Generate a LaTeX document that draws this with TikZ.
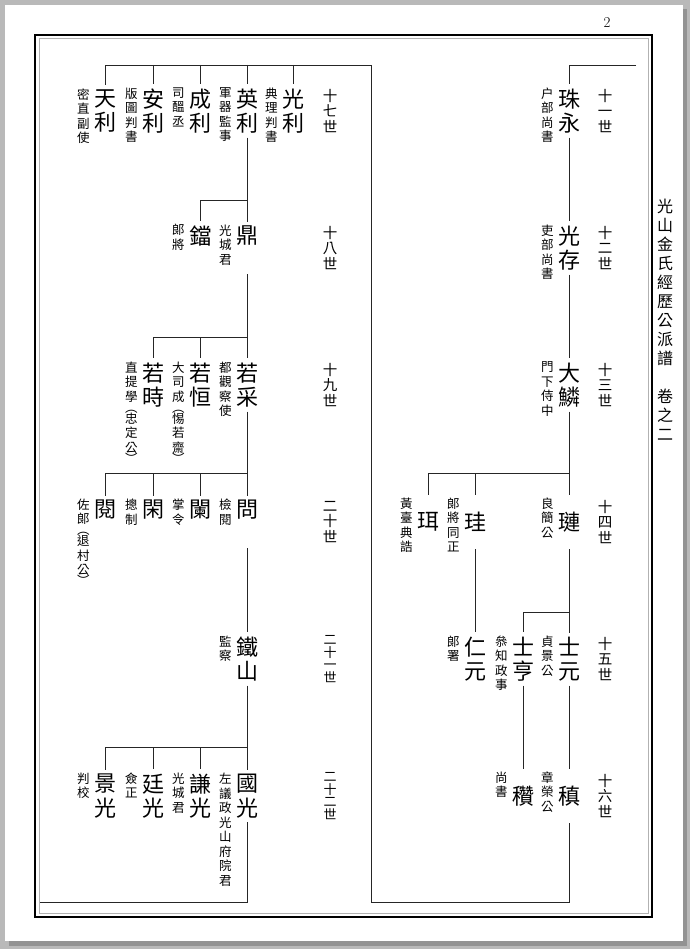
\documentclass[tikz,border=0pt]{standalone}
\usepackage{fontspec}
\newfontfamily\cjk{Noto Sans CJK TC}
\usetikzlibrary{positioning}

\newcommand\namefont{\cjk\fontsize{22}{24.5}\selectfont}
\newcommand\dutyfont{\cjk\fontsize{12.5}{14.5}\selectfont}
\newcommand\genfont{\cjk\fontsize{14.5}{15.5}\selectfont}
\newcommand\genfontsm{\cjk\fontsize{13}{12.5}\selectfont}
\newcommand\titlefont{\cjk\fontsize{16}{19}\selectfont}
\newcommand\blank{\phantom{國}}

\begin{document}
\begin{tikzpicture}[x=1pt, y=-1pt,
				person/.style={font=\namefont, align=center, inner sep=4pt},
				solo/.style={person, minimum height=54.5pt},
				duty/.style={font=\dutyfont, align=center, inner sep=0pt},
				gen/.style={font=\genfont, align=center, inner sep=0pt},
				gensm/.style={font=\genfontsm, align=center, inner sep=0pt},
				booktitle/.style={font=\titlefont, align=center, inner sep=0pt},
				link/.style={line width=0.9pt, black!85}]
				
				\useasboundingbox (0,0) rectangle (690,949);
				\fill[gray!55] (0,0) rectangle (690,949);
				\fill[gray!85] (9,9) rectangle (687,946);
				\fill[white] (5,5) rectangle (683,941);
				\draw[line width=2.5pt] (35,35) rectangle (652,917);
				\draw[gray!60, line width=1pt] (39,39) rectangle (648,913);
				
				\node[font=\fontsize{15}{15}\selectfont] (pgno) at (607,23) {2};
				\node[booktitle, anchor=north] (maintitle) at (665,199) {光\\山\\金\\氏\\經\\歷\\公\\派\\譜\\[19pt]卷\\之\\二};
				
				% right page
				\node[person] (juyong) at (569,111) {珠\\永};
				\node[duty, below left=3pt and 0pt of juyong.north west] (o-juyong) {户\\部\\尚\\書};
				\node[gen] (g11) at (605,111) {十\\一\\世};
				
				\node[person] (gwangjon) at (569,248) {光\\存};
				\node[duty, below left=3pt and 0pt of gwangjon.north west] (o-gwangjon) {吏\\部\\尚\\書};
				\node[gen] (g12) at (605,248) {十\\二\\世};
				
				\node[person] (daerin) at (569,385) {大\\鱗};
				\node[duty, below left=3pt and 0pt of daerin.north west] (o-daerin) {門\\下\\侍\\中};
				\node[gen] (g13) at (605,385) {十\\三\\世};
				
				\node[solo] (yeon) at (569,522) {璉};
				\node[duty, below left=3pt and 0pt of yeon.north west] (o-yeon) {良\\簡\\公};
				\node[solo] (gyu) at (475,522) {珪};
				\node[duty, below left=3pt and 0pt of gyu.north west] (o-gyu) {郞\\將\\同\\正};
				\node[solo] (yi) at (428,522) {珥};
				\node[duty, below left=3pt and 0pt of yi.north west] (o-yi) {黃\\臺\\典\\誥};
				\node[gen] (g14) at (605,522) {十\\四\\世};
				
				\node[person] (sawon) at (569,659) {士\\元};
				\node[duty, below left=3pt and 0pt of sawon.north west] (o-sawon) {貞\\景\\公};
				\node[person] (sahyeong) at (523,659) {士\\亨};
				\node[duty, below left=3pt and 0pt of sahyeong.north west] (o-sahyeong) {叅\\知\\政\\事};
				\node[person] (inwon) at (475,659) {仁\\元};
				\node[duty, below left=3pt and 0pt of inwon.north west] (o-inwon) {郞\\署};
				\node[gen] (g15) at (605,659) {十\\五\\世};
				
				\node[solo] (jin) at (569,796) {稹};
				\node[duty, below left=3pt and 0pt of jin.north west] (o-jin) {章\\榮\\公};
				\node[solo] (chan) at (523,796) {穳};
				\node[duty, below left=3pt and 0pt of chan.north west] (o-chan) {尚\\書};
				\node[gen] (g16) at (605,796) {十\\六\\世};
				
				% left page
				\node[person] (gwangri) at (293,111) {光\\利};
				\node[duty, below left=3pt and 0pt of gwangri.north west] (o-gwangri) {典\\理\\判\\書};
				\node[person] (yeongri) at (247,111) {英\\利};
				\node[duty, below left=3pt and 0pt of yeongri.north west] (o-yeongri) {軍\\器\\監\\事};
				\node[person] (seongri) at (200,111) {成\\利};
				\node[duty, below left=3pt and 0pt of seongri.north west] (o-seongri) {司\\醞\\丞};
				\node[person] (anri) at (153,111) {安\\利};
				\node[duty, below left=3pt and 0pt of anri.north west] (o-anri) {版\\圖\\判\\書};
				\node[person] (cheonri) at (105,111) {天\\利};
				\node[duty, below left=3pt and 0pt of cheonri.north west] (o-cheonri) {密\\直\\副\\使};
				\node[gen] (g17) at (330,111) {十\\七\\世};
				
				\node[person] (jeong) at (247,248) {鼎\\\blank};
				\node[duty, below left=3pt and 0pt of jeong.north west] (o-jeong) {光\\城\\君};
				\node[person] (dang) at (200,248) {鐺\\\blank};
				\node[duty, below left=3pt and 0pt of dang.north west] (o-dang) {郞\\將};
				\node[gen] (g18) at (330,248) {十\\八\\世};
				
				\node[person] (yakchae) at (247,385) {若\\采};
				\node[duty, below left=3pt and 0pt of yakchae.north west] (o-yakchae) {都\\觀\\察\\使};
				\node[person] (yakhang) at (200,385) {若\\恒};
				\node[duty, below left=3pt and 0pt of yakhang.north west] (o-yakhang) {大\\司\\成\\[-3.5pt]︵\\[-3.5pt]惕\\若\\齋\\[-3.5pt]︶};
				\node[person] (yaksi) at (153,385) {若\\時};
				\node[duty, below left=3pt and 0pt of yaksi.north west] (o-yaksi) {直\\提\\學\\[-3.5pt]︵\\[-3.5pt]忠\\定\\公\\[-3.5pt]︶};
				\node[gen] (g19) at (330,385) {十\\九\\世};
				
				\node[person] (mun) at (247,522) {問\\\blank};
				\node[duty, below left=3pt and 0pt of mun.north west] (o-mun) {檢\\閱};
				\node[person] (ran) at (200,522) {闌\\\blank};
				\node[duty, below left=3pt and 0pt of ran.north west] (o-ran) {掌\\令};
				\node[person] (han) at (153,522) {閑\\\blank};
				\node[duty, below left=3pt and 0pt of han.north west] (o-han) {摠\\制};
				\node[person] (yeol) at (105,522) {閱\\\blank};
				\node[duty, below left=3pt and 0pt of yeol.north west] (o-yeol) {佐\\郞\\[-3.5pt]︵\\[-3.5pt]退\\村\\公\\[-3.5pt]︶};
				\node[gen] (g20) at (330,522) {二\\十\\世};
				
				\node[person] (cheolsan) at (247,659) {鐵\\山};
				\node[duty, below left=3pt and 0pt of cheolsan.north west] (o-cheolsan) {監\\察};
				\node[gensm] (g21) at (330,659) {二\\十\\一\\世};
				
				\node[person] (gukgwang) at (247,796) {國\\光};
				\node[duty, below left=3pt and 0pt of gukgwang.north west] (o-gukgwang) {左\\議\\政\\光\\山\\府\\院\\君};
				\node[person] (gyeomgwang) at (200,796) {謙\\光};
				\node[duty, below left=3pt and 0pt of gyeomgwang.north west] (o-gyeomgwang) {光\\城\\君};
				\node[person] (jeonggwang) at (153,796) {廷\\光};
				\node[duty, below left=3pt and 0pt of jeonggwang.north west] (o-jeonggwang) {僉\\正};
				\node[person] (gyeonggwang) at (105,796) {景\\光};
				\node[duty, below left=3pt and 0pt of gyeonggwang.north west] (o-gyeonggwang) {判\\校};
				\node[gensm] (g22) at (330,796) {二\\十\\二\\世};
				
				\coordinate (cont) at (636,65);
				\coordinate (rt) at (371,65);
				\coordinate (rb) at (371,902);
				\coordinate (lb) at (40,902);
				\coordinate (b14) at (569,473);
				\coordinate (b15) at (569,612);
				\coordinate (b18) at (247,200);
				\coordinate (b19) at (247,337);
				\coordinate (b20) at (247,473);
				\coordinate (b22) at (247,747);
				
				\draw[link] (cont) -| (juyong);
				\draw[link] (juyong) -- (gwangjon);
				\draw[link] (gwangjon) -- (daerin);
				\draw[link] (daerin) -- (yeon);
				\foreach \n in {gyu,yi} \draw[link] (b14) -| (\n);
				\draw[link] (yeon) -- (sawon);
				\draw[link] (b15) -| (sahyeong);
				\draw[link] (gyu) -- (inwon);
				\draw[link] (sawon) -- (jin);
				\draw[link] (sahyeong) -- (chan);
				\draw[link] (jin) |- (rb) -- (rt) -| (cheonri);
				
				\foreach \n in {anri,seongri,yeongri,gwangri} \draw[link] (\n |- rt) -- (\n);
				\draw[link] (yeongri) -- (jeong);
				\draw[link] (b18) -| (dang);
				\draw[link] (jeong) -- (yakchae);
				\foreach \n in {yakhang,yaksi} \draw[link] (b19) -| (\n);
				\draw[link] (yakchae) -- (mun);
				\foreach \n in {ran,han,yeol} \draw[link] (b20) -| (\n);
				\draw[link] (mun) -- (cheolsan);
				\draw[link] (cheolsan) -- (gukgwang);
				\foreach \n in {gyeomgwang,jeonggwang,gyeonggwang} \draw[link] (b22) -| (\n);
				\draw[link] (gukgwang) |- (lb);
			\end{tikzpicture}
\end{document}
